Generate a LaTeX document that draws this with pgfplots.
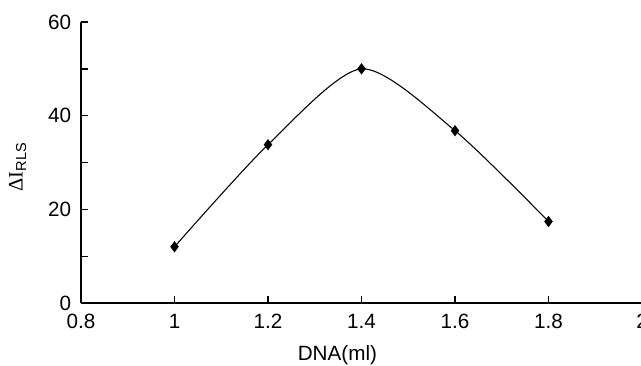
\documentclass[border=0pt]{standalone}
\usepackage{fontspec}
\setmainfont{Liberation Sans}
\newfontfamily\seriffont{Liberation Serif}
\usepackage{pgfplots}
\pgfplotsset{compat=1.18}
\begin{document}
\fontsize{15.5}{18}\selectfont
\begin{tikzpicture}
\begin{axis}[
  name=ax,
  scale only axis, width=420.75pt, height=210.75pt,
  xmin=0.8, xmax=2, ymin=0, ymax=60,
  axis lines=left,
  axis line style={-, line width=1.1pt},
  xtick={0.8,1,1.2,1.4,1.6,1.8,2},
  xticklabels={0.8,1,1.2,1.4,1.6,1.8,2},
  ytick={0,20,40,60},
  yticklabels={0,20,40,60},
  minor ytick={10,30,50},
  tick align=inside,
  major tick length=5pt, minor tick length=5pt,
  every tick/.style={black, line width=1pt},
  ticklabel style={font=\fontsize{15.5}{18}\selectfont},
  xticklabel style={yshift=-3pt},
  yticklabel style={xshift=-2pt},
  xlabel={DNA(ml)},
  ylabel={{\seriffont ΔI}\textsubscript{RLS}},
  every axis x label/.style={at={(axis description cs:0.457,0)}, anchor=center, yshift=-39pt, font=\fontsize{15.5}{18}\selectfont},
  every axis y label/.style={at={(axis description cs:0,0.484)}, anchor=center, rotate=90, yshift=47.5pt, font=\fontsize{15.5}{18}\selectfont},
  clip=false,
]
\addplot[black, line width=0.8pt, smooth, tension=0.45, mark=diamond*, mark size=3.6pt, mark options={solid, fill=black}]
  coordinates {(1,12) (1.2,33.8) (1.4,50) (1.6,36.8) (1.8,17.4)};
\end{axis}
\pgfresetboundingbox
\path (ax.south west) ++(-60.75pt,-46.5pt) rectangle ++(480.75pt,273.75pt);
\end{tikzpicture}
\end{document}
